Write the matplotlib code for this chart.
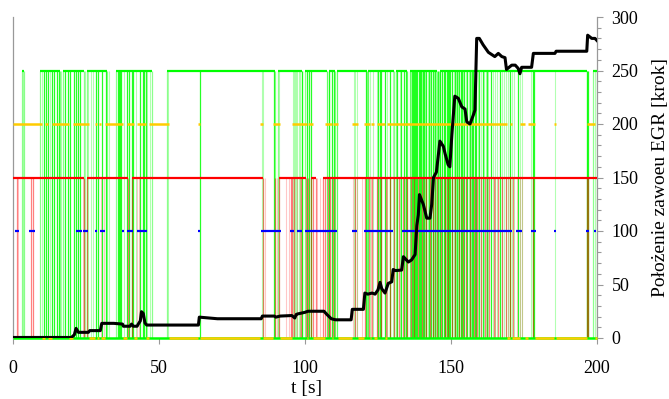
import matplotlib
matplotlib.use('Agg')
import matplotlib.pyplot as plt
from matplotlib.ticker import MultipleLocator

plt.rcParams['font.family'] = ['Liberation Serif', 'DejaVu Serif']

# ---------------- data ----------------
x_ticks = [0, 50, 100, 150, 200]
y_ticks = [0, 50, 100, 150, 200, 250, 300]
x_label = 't [s]'
y_label = 'Położenie zawoeu EGR [krok]'

green_level = 250
red_level = 150
yellow_level = 200
blue_level = 100

green_high = [(3.2, 3.7), (9.2, 16.1), (17.1, 24.3), (25.3, 32.2), (35.3, 47.6),
              (52.7, 89.7), (90.8, 99.0), (100.0, 107.5), (108.2, 110.3),
              (111.0, 121.2), (121.6, 130.5), (131.2, 134.9), (136.0, 145.2),
              (146.2, 196.6), (198.6, 200.0)]
green_drops = [10.7, 11.3, 11.9, 13.5, 14.1, 15.0, 15.9, 17.9, 18.9, 19.5, 20.9, 21.6,
               22.4, 23.0, 28.4, 29.2, 30.4, 31.9, 36.1, 36.4, 36.7, 37.0, 39.2, 39.8,
               40.7, 41.2, 43.5, 44.4, 44.9, 45.5, 64.0, 89.5, 98.9, 100.6, 101.4, 102.0,
               108.2, 109.1, 110.0, 120.9, 125.0, 125.6, 126.0, 127.4, 129.1, 131.4,
               133.0, 133.8, 134.5, 136.7, 137.0, 137.3, 137.7, 138.1, 138.5, 138.9,
               139.4, 139.8, 140.3, 140.9, 141.6, 142.4, 143.1, 143.9, 144.6, 145.4,
               146.4, 147.0, 147.6, 148.1, 148.5, 148.9, 149.3, 149.8, 150.4, 151.2,
               152.0, 152.9, 153.3, 153.8, 154.6, 155.5, 156.4, 157.3, 157.7, 158.1,
               158.6, 159.6, 160.8, 162.3, 163.7, 166.8, 170.2, 172.8, 178.1, 178.5,
               196.6, 196.9]
green_blips = [3.4, 9.8, 12.5, 16.5, 24.8, 25.8, 26.6, 27.5, 33.0, 38.0, 42.0, 46.0,
               47.0, 53.2, 85.2, 85.6, 91.1, 95.8, 96.2, 96.6, 97.0, 97.4, 97.8, 98.3,
               107.4, 111.0, 116.8, 117.2, 117.7, 121.7, 122.3, 123.4, 124.6, 128.2,
               130.2, 132.4, 135.1, 135.8, 136.2, 140.0, 141.2, 142.0, 142.8, 144.2,
               145.0, 145.8, 150.9, 151.6, 152.5, 154.2, 155.1, 156.0, 156.9, 159.2,
               160.2, 161.3, 161.9, 162.8, 164.3, 165.0, 165.8, 167.5, 168.1, 168.9,
               169.5, 171.0, 171.6, 173.5, 174.3, 177.4, 185.6, 199.3]

red_high = [(0.0, 24.3), (25.3, 39.4), (40.8, 85.6), (91.1, 100.3), (102.0, 103.8),
            (106.2, 200.0)]
red_drops = [1.4, 6.2, 6.8, 24.3, 25.3, 39.4, 40.8, 85.6, 89.7, 91.1, 95.2, 95.7, 96.3,
             98.8, 100.3, 101.0, 102.0, 102.8, 103.8, 106.2, 107.0, 107.8, 108.6, 109.6,
             117.0, 120.6, 121.8, 123.1, 124.5, 126.0, 127.6, 129.0, 130.6, 132.2,
             133.6, 135.0, 136.2, 137.4, 138.6, 139.9, 141.3, 142.7, 143.8, 145.1,
             146.6, 147.8, 149.0, 150.2, 151.5, 152.7, 154.0, 155.3, 156.5, 157.9,
             159.0, 160.4, 161.7, 163.0, 164.6, 166.0, 167.3, 168.7, 170.1, 171.3,
             178.0, 196.6, 197.0]
red_blips = [1.7, 24.0, 30.3, 31.0, 42.6, 43.3, 86.3, 90.3, 93.5, 94.5, 97.2, 98.3,
             104.0, 105.0, 110.2, 116.4, 117.8, 119.5, 122.5, 125.3, 128.2, 131.5,
             134.2, 140.6, 144.5, 148.3, 153.3, 158.5, 162.3, 165.2, 169.4, 172.5,
             173.5, 174.3, 200.0]

yellow_high = [(0.0, 10.0), (11.0, 12.0), (13.3, 19.2), (20.5, 26.0), (28.0, 28.8),
               (29.5, 30.1), (31.5, 37.7), (39.0, 41.4), (42.5, 45.5), (46.6, 53.4),
               (63.5, 63.9), (84.6, 85.6), (89.0, 91.4), (95.5, 100.7), (101.0, 102.7),
               (106.8, 109.2), (109.6, 111.3), (116.1, 118.2), (120.2, 122.3),
               (122.6, 123.6), (124.7, 127.4), (128.0, 169.2), (170.2, 170.9),
               (173.6, 175.3), (176.4, 178.8), (185.4, 185.8), (196.6, 199.3)]

blue_high = [(0.7, 2.1), (5.5, 7.5), (21.6, 23.6), (24.0, 25.7), (28.1, 28.8),
             (29.8, 31.5), (37.3, 38.0), (39.0, 41.1), (42.5, 45.9), (63.5, 63.9),
             (84.9, 91.8), (94.9, 96.2), (97.3, 99.0), (100.0, 111.0), (116.1, 117.8),
             (120.2, 130.1), (133.2, 170.9), (172.3, 174.3), (177.4, 179.1),
             (185.4, 185.8), (196.2, 197.3), (199.1, 199.5)]

egr_t = [0.0, 20.0, 21.0, 21.6, 22.4, 25.8, 26.3, 29.9, 30.4, 34.5, 37.5, 37.8, 40.1,
         40.6, 41.2, 42.5, 42.9, 43.6, 44.0, 44.6, 45.2, 45.8, 63.5, 63.8, 70.0, 85.0,
         85.4, 89.5, 90.0, 91.5, 95.5, 96.5, 97.0, 97.5, 100.0, 101.0, 103.0, 106.5,
         107.5, 109.0, 110.5, 115.8, 116.2, 120.0, 120.5, 121.5, 123.0, 124.0, 125.0,
         125.7, 126.3, 127.4, 128.5, 129.7, 130.2, 131.0, 133.1, 133.7, 135.4, 136.5,
         137.7, 138.3, 138.8, 139.2, 140.5, 141.7, 142.8, 143.4, 144.0, 145.0, 146.2,
         147.4, 148.0, 149.0, 149.6, 150.3, 151.3, 152.5, 153.7, 154.8, 155.4, 156.5,
         157.6, 158.2, 158.8, 159.7, 161.0, 162.8, 163.9, 165.0, 166.2, 167.4, 168.5,
         169.0, 170.8, 172.0, 173.0, 173.6, 174.2, 177.6, 178.2, 185.6, 186.0, 196.5,
         196.8, 198.2, 199.3, 200.0]
egr_pos = [0.5, 0.5, 3.0, 9.0, 5.3, 5.3, 6.9, 6.9, 13.7, 13.7, 13.0, 11.0, 11.0,
           13.0, 11.0, 11.0, 13.0, 16.0, 24.6, 23.0, 14.0, 12.1, 12.1, 19.5, 18.0, 18.0,
           20.5, 20.5, 19.5, 20.5, 21.0, 18.7, 22.0, 22.5, 24.0, 25.0, 25.0, 25.0,
           22.0, 18.0, 17.0, 17.0, 26.8, 26.8, 42.0, 41.0, 42.0, 41.0, 45.0,
           52.0, 46.0, 42.0, 51.0, 52.5, 64.0, 63.0, 63.5, 76.0, 71.0, 73.0,
           78.0, 105.0, 115.0, 134.0, 125.0, 112.0, 112.0, 125.0, 150.0, 155.0, 184.0,
           179.0, 172.0, 162.0, 160.0, 190.0, 226.0, 224.0, 216.0, 214.0, 202.0, 200.0,
           208.0, 213.0, 280.0, 280.0, 274.0, 267.0, 265.0, 263.0, 266.0, 263.0, 262.0,
           251.0, 255.0, 255.0, 252.0, 247.0, 253.0, 253.0, 266.0, 266.0, 268.0, 268.0,
           283.0, 280.0, 280.0, 278.0]


def complement(intervals, lo=0.0, hi=200.0):
    out, cur = [], lo
    for a, b in sorted(intervals):
        if a > cur:
            out.append((cur, a))
        cur = max(cur, b)
    if cur < hi:
        out.append((cur, hi))
    return out


# ---------------- figure ----------------
W, H = 669, 399
fig = plt.figure(figsize=(W / 100, H / 100), dpi=100)
ax = fig.add_axes([13 / W, 1 - 338 / H, 584 / W, 321 / H])
ax.set_xlim(0, 200)
ax.set_ylim(0, 300)

G = '#00ff00'
R = '#ff0000'
Y = '#ffcc00'
B = '#0000ff'

# green vertical transitions
g_edges = [t for iv in green_high for t in iv]
ax.vlines(green_blips, 0, green_level, colors=G, lw=0.8, alpha=0.3, zorder=1)
ax.vlines(g_edges, 0, green_level, colors=G, lw=0.9, alpha=0.45, zorder=1)
ax.vlines(green_drops, 0, green_level, colors=G, lw=0.9, alpha=0.85, zorder=1)
# red vertical transitions
ax.vlines(red_blips, 0, red_level, colors=R, lw=0.8, alpha=0.22, zorder=2)
ax.vlines(red_drops, 0, red_level, colors=R, lw=0.9, alpha=0.5, zorder=2)

# green horizontal levels
for a, b in green_high:
    ax.hlines(green_level, a, b, colors=G, lw=1.6, zorder=3)
ax.hlines(0, 0, 200, colors=G, lw=1.8, zorder=3, clip_on=False)
# red level
for a, b in red_high:
    ax.hlines(red_level, a, b, colors=R, lw=1.6, zorder=3)
# yellow
for a, b in yellow_high:
    ax.hlines(yellow_level, a, b, colors=Y, lw=1.8, zorder=4)
for a, b in complement(yellow_high):
    ax.hlines(0, a, b, colors=Y, lw=1.8, zorder=4, clip_on=False)
# blue
for a, b in blue_high:
    ax.hlines(blue_level, a, b, colors=B, lw=1.6, zorder=5)

# EGR position
ax.plot(egr_t, egr_pos, color='black', lw=2.2, zorder=6, solid_joinstyle='round')

# axes styling
gray = '#999999'
for s in ['top', 'bottom']:
    ax.spines[s].set_visible(False)
for s in ['left', 'right']:
    ax.spines[s].set_color(gray)
    ax.spines[s].set_linewidth(0.9)

ax.set_xticks(x_ticks)
ax.set_xticklabels([str(v) for v in x_ticks])
ax.yaxis.tick_right()
ax.set_yticks(y_ticks)
ax.set_yticklabels([str(v) for v in y_ticks])
ax.yaxis.set_minor_locator(MultipleLocator(10))
ax.tick_params(axis='x', direction='out', length=4.5, width=0.8, color=gray,
               labelsize=13, pad=11)
ax.tick_params(axis='y', which='major', direction='out', length=4.5, width=0.8,
               color=gray, labelsize=13, pad=6, right=True, left=False)
ax.tick_params(axis='y', which='minor', direction='out', length=3, width=0.8,
               color=gray, right=True, left=False)

fig.text(307 / W, 1 - 388 / H, x_label, ha='center', va='center', fontsize=14)
fig.text(660 / W, 1 - 177.5 / H, y_label, ha='center', va='center', rotation=90,
         fontsize=14)

fig.savefig('out.png', dpi=100)
